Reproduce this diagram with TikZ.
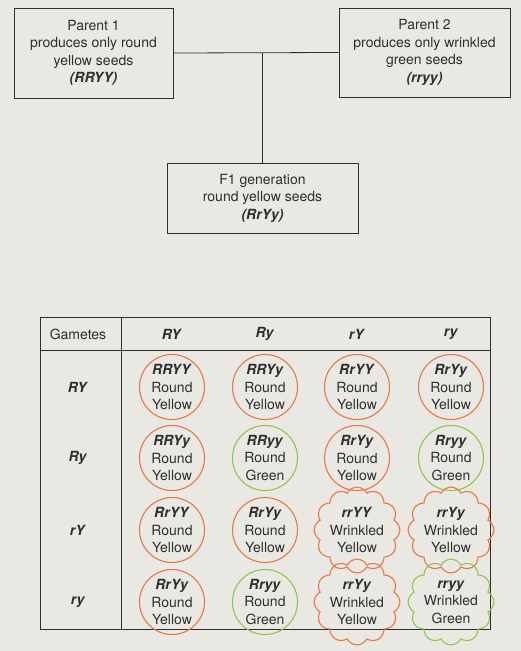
\documentclass[tikz,border=0pt]{standalone}
\usepackage{fontspec}
\setmainfont{TeX Gyre Heros}
\usepackage{tikz}
\usetikzlibrary{shapes.symbols, shapes.geometric, positioning, calc}
\definecolor{pagebg}{HTML}{E9E8E3}
\definecolor{inkgray}{HTML}{2E2E2E}
\definecolor{seedorange}{HTML}{E8774A}
\definecolor{seedgreen}{HTML}{8CC84C}
\tikzset{
  parent/.style={draw=inkgray,thick,align=center,inner sep=0pt},
  gridline/.style={draw=inkgray,thick},
  link/.style={draw=inkgray,thick},
  gamete/.style={inner sep=1pt},
  seed-Round/.style={circle,minimum size=65pt},
  seed-Wrinkled/.style={cloud,cloud puffs=12,cloud puff arc=125,aspect=1,minimum width=68pt,minimum height=68pt},
  tint-Yellow/.style={draw=seedorange},
  tint-Green/.style={draw=seedgreen},
  cell/.style={align=center,inner sep=0pt,line width=1.1pt,text=inkgray},
}
\newcommand{\geno}[1]{\textbf{\textit{#1}}}

\begin{document}
\begin{tikzpicture}[x=1pt,y=-1pt,font=\fontsize{14}{17.5}\selectfont,text=inkgray]
	    \fill[pagebg] (0,0) rectangle (521,651);
	    \useasboundingbox (0,0) rectangle (521,651);
	    % parents and F1
	    \node[parent,minimum width=159pt,minimum height=90pt] (P1) at (93.5,53) {Parent 1\\produces only round\\yellow seeds\\\geno{(RRYY)}};
	    \node[parent,minimum width=171pt,minimum height=89pt] (P2) at (424.5,52.5) {Parent 2\\produces only wrinkled\\green seeds\\\geno{(rryy)}};
	    \node[parent,minimum width=191pt,minimum height=70pt] (F1) at (262.5,198) {F1 generation\\round yellow seeds\\\geno{(RrYy)}};
	    \coordinate (cross) at (F1.north |- P1.east);
	    \draw[link] (P1.east) -- (P2.west);
	    \draw[link] (cross) -- (F1.north);
	    % Punnett square
	    \draw[gridline] (40,317) rectangle (490,629);
	    \draw[gridline] (40,350) -- (490,350);
	    \draw[gridline] (121,317) -- (121,629);
	    \node (gametes) at (78,334) {Gametes};
	    \foreach \g [count=\i] in {RY,Ry,rY,ry} {
	      \pgfmathsetmacro{\cx}{{172,265,357,451}[\i-1]}
	      \pgfmathsetmacro{\ry}{{387,458,530,602}[\i-1]}
	      \node[gamete] (col\i) at (\cx,334) {\geno{\g}};
	      \node[gamete] (row\i) at (78,\ry) {\geno{\g}};
	    }
	    \foreach \r/\c/\gt/\shp/\clr in {
	      1/1/RRYY/Round/Yellow, 1/2/RRYy/Round/Yellow, 1/3/RrYY/Round/Yellow, 1/4/RrYy/Round/Yellow,
	      2/1/RRYy/Round/Yellow, 2/2/RRyy/Round/Green, 2/3/RrYy/Round/Yellow, 2/4/Rryy/Round/Green,
	      3/1/RrYY/Round/Yellow, 3/2/RrYy/Round/Yellow, 3/3/rrYY/Wrinkled/Yellow, 3/4/rrYy/Wrinkled/Yellow,
	      4/1/RrYy/Round/Yellow, 4/2/Rryy/Round/Green, 4/3/rrYy/Wrinkled/Yellow, 4/4/rryy/Wrinkled/Green} {
	      \node[cell,seed-\shp,tint-\clr] (c\r\c) at (col\c |- row\r) {\geno{\gt}\\\shp\\\clr};
	    }
	\end{tikzpicture}
\end{document}
